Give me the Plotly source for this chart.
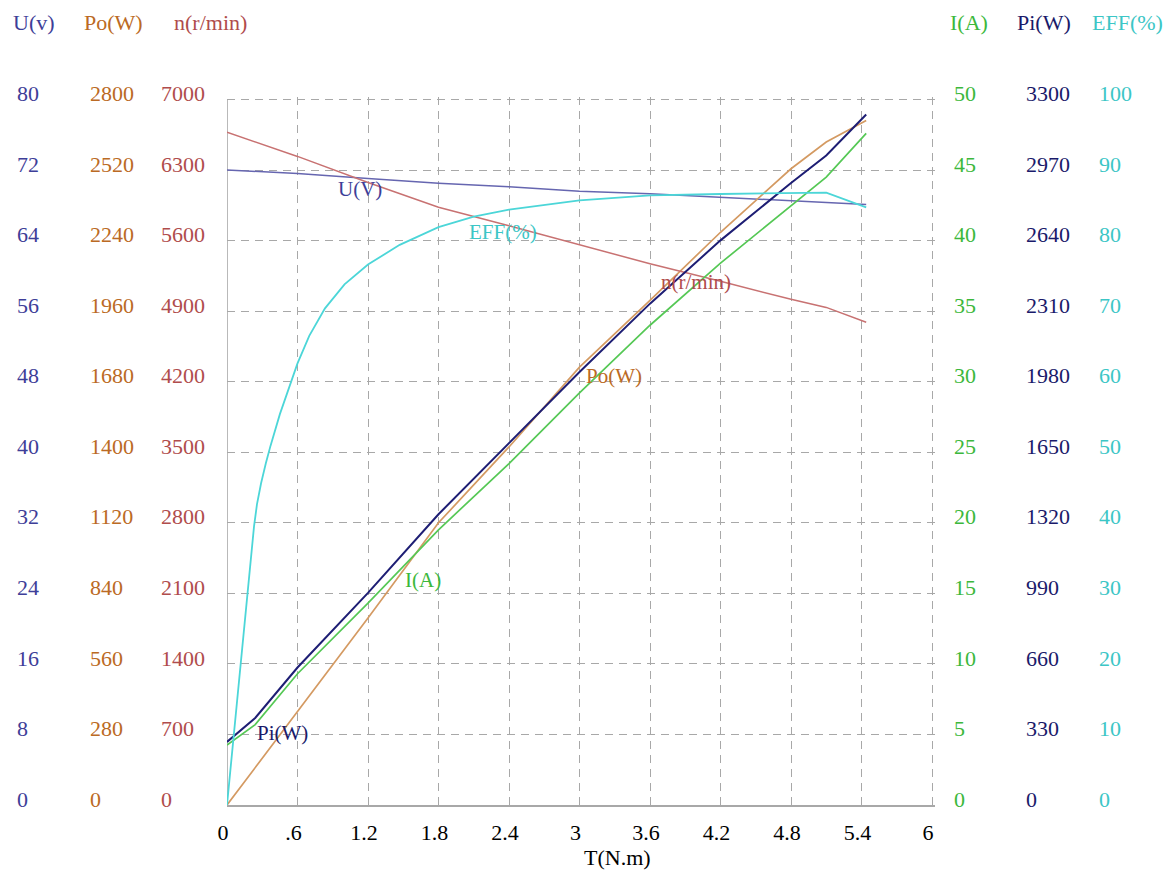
import plotly.graph_objects as go

# ---------------- data ----------------
T = [0, 0.24, 0.6, 1.2, 1.8, 2.4, 3.0, 3.6, 4.2, 4.8, 5.1, 5.44]
U_v = [72.0, 71.85, 71.6, 71.05, 70.5, 70.1, 69.6, 69.3, 68.9, 68.5, 68.35, 68.1]
n_rpm = [6674, 6578, 6435, 6176, 5930, 5747, 5556, 5370, 5196, 5017, 4937, 4789]
Po_w = [0, 148, 370, 742, 1120, 1421, 1738, 2003, 2273, 2525, 2631, 2717]
Pi_w = [295, 407, 643, 992, 1360, 1691, 2025, 2345, 2641, 2909, 3038, 3230]
I_a = [4.25, 5.7, 9.3, 14.3, 19.5, 24.2, 29.2, 34.0, 38.4, 42.5, 44.5, 47.6]

T_eff = [0, 0.1, 0.18, 0.21, 0.23, 0.255, 0.29, 0.33, 0.37, 0.45, 0.54, 0.6, 0.7,
         0.834, 1.0, 1.2, 1.47, 1.8, 2.1, 2.4, 3.0, 3.6, 4.2, 4.8, 5.1, 5.44]
eff = [0, 17, 30.5, 36, 39.5, 42.6, 45.6, 48.4, 50.9, 55.4, 59.9, 62.6, 66.5,
       70.4, 73.8, 76.6, 79.4, 81.9, 83.4, 84.4, 85.7, 86.4, 86.6, 86.7, 86.8, 84.7]

x_ticks = [0, 0.6, 1.2, 1.8, 2.4, 3.0, 3.6, 4.2, 4.8, 5.4, 6.0]
x_ticktext = ["0", ".6", "1.2", "1.8", "2.4", "3", "3.6", "4.2", "4.8", "5.4", "6"]
U_ticks = [0, 8, 16, 24, 32, 40, 48, 56, 64, 72, 80]
Po_ticks = [0, 280, 560, 840, 1120, 1400, 1680, 1960, 2240, 2520, 2800]
n_ticks = [0, 700, 1400, 2100, 2800, 3500, 4200, 4900, 5600, 6300, 7000]
I_ticks = [0, 5, 10, 15, 20, 25, 30, 35, 40, 45, 50]
Pi_ticks = [0, 330, 660, 990, 1320, 1650, 1980, 2310, 2640, 2970, 3300]
EFF_ticks = [0, 10, 20, 30, 40, 50, 60, 70, 80, 90, 100]

# ---------------- styling / geometry ----------------
W, H = 1176, 873
L_PX, BOT_PX = 227, 805          # plot origin in pixels
X_PX_PER_UNIT = 117.5            # 0..6 spans 705 px
Y_SPAN_PX = 706                  # full tick range spans 706 px
X_MAX = 6.022                    # small headroom so edge gridlines stay visible
Y_EXT = 1.0035
PLOT_H = Y_SPAN_PX * Y_EXT
R_PX = L_PX + X_MAX * X_PX_PER_UNIT
TOP_PX = BOT_PX - PLOT_H

FONT = "Liberation Serif"
FS = 22
GRID = "#a8a8a8"
DASH = "8px,6px"

C_U_line, C_U_txt = "#6666b0", "#3e3e98"
C_Po_line, C_Po_txt = "#d49a62", "#bb6a24"
C_n_line, C_n_txt = "#c87272", "#b04c4c"
C_I_line, C_I_txt = "#55c855", "#3cb83c"
C_Pi_line, C_Pi_txt = "#1e1e74", "#1a1a6a"
C_E_line, C_E_txt = "#4cd6d8", "#3cc6c6"

fig = go.Figure()
fig.add_trace(go.Scatter(x=T, y=U_v, yaxis="y", mode="lines",
                         line=dict(color=C_U_line, width=1.5)))
fig.add_trace(go.Scatter(x=T, y=n_rpm, yaxis="y4", mode="lines",
                         line=dict(color=C_n_line, width=1.5)))
fig.add_trace(go.Scatter(x=T_eff, y=eff, yaxis="y7", mode="lines",
                         line=dict(color=C_E_line, width=1.8)))
fig.add_trace(go.Scatter(x=T, y=I_a, yaxis="y5", mode="lines",
                         line=dict(color=C_I_line, width=1.7)))
fig.add_trace(go.Scatter(x=T, y=Po_w, yaxis="y3", mode="lines",
                         line=dict(color=C_Po_line, width=1.7)))
fig.add_trace(go.Scatter(x=T, y=Pi_w, yaxis="y6", mode="lines",
                         line=dict(color=C_Pi_line, width=2)))


def label_axis(ticks, color, left_px, **extra):
    d = dict(anchor="free", side="right",
             position=left_px / W, range=[0, ticks[-1] * Y_EXT], tickmode="array",
             tickvals=ticks, ticktext=[str(t) for t in ticks],
             tickfont=dict(family=FONT, size=FS, color=color),
             showgrid=False, showline=False, zeroline=False, ticks="",
             ticklabelshift=-6, automargin=False, fixedrange=True)
    d.update(extra)
    return d


layout = dict(
    width=W, height=H, autosize=False,
    margin=dict(l=0, r=0, t=TOP_PX, b=H - BOT_PX, pad=0),
    paper_bgcolor="white", plot_bgcolor="white",
    showlegend=False,
    font=dict(family=FONT, size=FS, color="black"),
    xaxis=dict(domain=[L_PX / W, R_PX / W], range=[0, X_MAX], tickmode="array",
               tickvals=x_ticks, ticktext=x_ticktext,
               showgrid=True, gridcolor=GRID, griddash=DASH, gridwidth=1.3,
               showline=True, linecolor=GRID, linewidth=1.6, zeroline=False,
               ticks="", ticklabelstandoff=7, ticklabelshift=-4,
               tickfont=dict(family=FONT, size=FS, color="black"),
               automargin=False, fixedrange=True),
    yaxis=label_axis(U_ticks, C_U_txt, 16, showgrid=True, gridcolor=GRID,
                     griddash=DASH, gridwidth=1.3),
    yaxis3=label_axis(Po_ticks, C_Po_txt, 89, overlaying="y"),
    yaxis4=label_axis(n_ticks, C_n_txt, 160, overlaying="y"),
    yaxis5=label_axis(I_ticks, C_I_txt, 953, overlaying="y"),
    yaxis6=label_axis(Pi_ticks, C_Pi_txt, 1025, overlaying="y"),
    yaxis7=label_axis(EFF_ticks, C_E_txt, 1098, overlaying="y"),
)
fig.update_layout(**layout)

# solid left frame line at T = 0
fig.add_shape(type="line", xref="x", yref="y", x0=0, x1=0, y0=0, y1=U_ticks[-1],
              line=dict(color=GRID, width=1.6), layer="below")


def px_ann(text, cx, cy, color, size=FS):
    fig.add_annotation(text=text, x=cx / W, y=(BOT_PX - cy) / PLOT_H,
                       xref="paper", yref="paper", showarrow=False,
                       xanchor="center", yanchor="middle",
                       font=dict(family=FONT, size=size, color=color))


# axis titles
px_ann("U(v)", 34, 22, C_U_txt)
px_ann("Po(W)", 113, 22, C_Po_txt)
px_ann("n(r/min)", 210, 22, C_n_txt)
px_ann("I(A)", 969, 22, C_I_txt)
px_ann("Pi(W)", 1044, 22, C_Pi_txt)
px_ann("EFF(%)", 1127, 22, C_E_txt)
px_ann("T(N.m)", 617, 858, "black")

# curve labels
px_ann("U(V)", 360, 189, C_U_txt, 21)
px_ann("EFF(%)", 503, 232, C_E_txt, 21)
px_ann("n(r/min)", 696, 282, C_n_txt, 21)
px_ann("Po(W)", 614, 376, C_Po_txt, 21)
px_ann("I(A)", 423, 580, C_I_txt, 21)
px_ann("Pi(W)", 282, 733, C_Pi_txt, 21)

fig.write_html("out.html", config={"displayModeBar": False},
               post_script="document.body.style.margin='0px';")
